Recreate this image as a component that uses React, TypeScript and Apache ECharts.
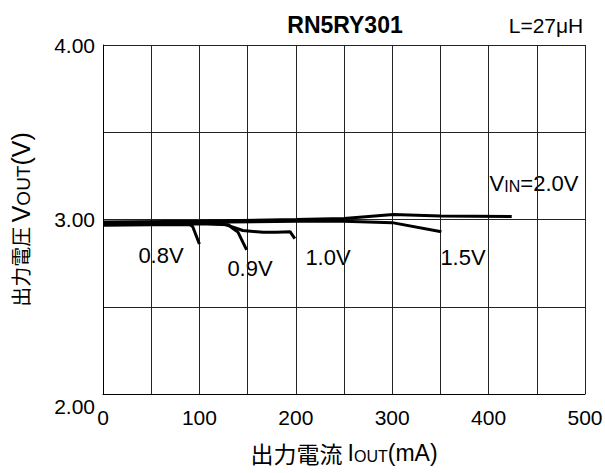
import React, { useEffect, useRef } from 'react';
import * as echarts from 'echarts';

// Output current (mA) vs output voltage (V) for each input voltage
const vin08: number[][] = [[0, 2.967], [50, 2.97], [90, 2.97], [93, 2.96], [100, 2.86]];
const vin09: number[][] = [[0, 2.972], [100, 2.975], [130, 2.97], [133, 2.956], [140, 2.928], [149, 2.826]];
const vin10: number[][] = [[0, 2.976], [100, 2.979], [124, 2.975], [135, 2.956], [145, 2.937], [166, 2.927], [180, 2.927], [194, 2.93], [199, 2.89]];
const vin15: number[][] = [[0, 2.98], [100, 2.984], [200, 2.99], [250, 2.99], [300, 2.982], [351, 2.93]];
const vin20: number[][] = [[0, 2.986], [100, 2.99], [200, 3.0], [250, 3.006], [301, 3.029], [350, 3.02], [424, 3.017]];

const xMin = 0, xMax = 500, xStep = 50, xLabelStep = 100;
const yMin = 2, yMax = 4, yStep = 0.5;
const yLabels = [2, 3, 4];

const title = 'RN5RY301';
const subTitle = 'L=27\u03bcH';
const curveLabels = ['0.8V', '0.9V', '1.0V', '1.5V'];

const FONT = '"Liberation Sans", Arial, sans-serif';
const CJK = '"Noto Sans CJK JP", "Liberation Sans", sans-serif';

export default function App() {
  const ref = useRef<HTMLDivElement>(null);
  useEffect(() => {
    if (!ref.current) return;
    const chart = echarts.init(ref.current, undefined, { renderer: 'svg' });
    const lineSeries = (name: string, data: number[][]) => ({
      type: 'line',
      name,
      data,
      symbol: 'none',
      smooth: false,
      lineStyle: { color: '#000', width: 3 },
      z: 3,
    });
    const lbl = (text: string, x: number, y: number) => ({
      type: 'text',
      x,
      y,
      style: { text, fill: '#000', font: `22px ${FONT}`, align: 'center', verticalAlign: 'middle' },
    });
    chart.setOption({
      animation: false,
      backgroundColor: '#fff',
      grid: { left: 103, right: 20, top: 45, bottom: 79, outerBoundsMode: 'none', containLabel: false },
      xAxis: {
        type: 'value',
        min: xMin,
        max: xMax,
        interval: xStep,
        name: '{c|出力電流 }{n|I}{s|OUT}{n|(mA)}',
        nameLocation: 'middle',
        nameGap: 47,
        nameTextStyle: {
          rich: {
            c: { fontSize: 23, fontFamily: CJK, color: '#000' },
            n: { fontSize: 23, fontFamily: FONT, color: '#000' },
            s: { fontSize: 16, fontFamily: FONT, color: '#000', padding: [7, 0, 0, 0] },
          },
        },
        axisLine: { show: true, lineStyle: { color: '#000', width: 1 } },
        axisTick: { show: false },
        axisLabel: {
          color: '#000',
          fontSize: 21,
          fontFamily: FONT,
          margin: 13,
          showMinLabel: true,
          showMaxLabel: true,
          formatter: (v: number) => (v % xLabelStep === 0 ? String(v) : ''),
        },
        splitLine: { show: true, showMinLine: true, showMaxLine: true, lineStyle: { color: '#222', width: 1 } },
      },
      yAxis: {
        type: 'value',
        min: yMin,
        max: yMax,
        interval: yStep,
        name: '{c|出力電圧 }{n|V}{s|OUT}{n|(V)}',
        nameLocation: 'middle',
        nameGap: 70,
        nameRotate: 90,
        nameTextStyle: {
          rich: {
            c: { fontSize: 20, fontFamily: CJK, color: '#000' },
            n: { fontSize: 25, fontFamily: FONT, color: '#000' },
            s: { fontSize: 19, fontFamily: FONT, color: '#000', padding: [6, 0, 0, 0] },
          },
        },
        axisLine: { show: true, lineStyle: { color: '#000', width: 1 } },
        axisTick: { show: false },
        axisLabel: {
          color: '#000',
          fontSize: 21,
          fontFamily: FONT,
          margin: 8,
          showMinLabel: true,
          showMaxLabel: true,
          formatter: (v: number) => {
            if (!yLabels.includes(v)) return '';
            if (v === yMin) return '{low|' + v.toFixed(2) + '}';
            return v.toFixed(2);
          },
          rich: {
            low: { fontSize: 21, fontFamily: FONT, color: '#000', padding: [24, 0, 0, 0] },
          },
        },
        splitLine: { show: true, showMinLine: true, showMaxLine: true, lineStyle: { color: '#222', width: 1 } },
      },
      series: [
        lineSeries('0.8V', vin08),
        lineSeries('0.9V', vin09),
        lineSeries('1.0V', vin10),
        lineSeries('1.5V', vin15),
        lineSeries('2.0V', vin20),
      ],
      graphic: [
        {
          type: 'text',
          x: 345,
          y: 25,
          style: { text: title, fill: '#000', font: `bold 23px ${FONT}`, align: 'center', verticalAlign: 'middle' },
        },
        {
          type: 'text',
          x: 546,
          y: 25,
          style: { text: subTitle, fill: '#000', font: `21px ${FONT}`, align: 'center', verticalAlign: 'middle' },
        },
        lbl(curveLabels[0], 161, 255),
        lbl(curveLabels[1], 250, 268),
        lbl(curveLabels[2], 328, 257),
        lbl(curveLabels[3], 463, 257),
        {
          type: 'text',
          x: 534,
          y: 183,
          style: {
            text: '{b|V}{s|IN}{b|=2.0V}',
            align: 'center',
            verticalAlign: 'middle',
            rich: {
              b: { fontSize: 22, fontFamily: FONT, fill: '#000', color: '#000' },
              s: { fontSize: 16, fontFamily: FONT, fill: '#000', color: '#000', padding: [7, 0, 0, 0] },
            },
          },
        },
      ],
    });
    return () => chart.dispose();
  }, []);
  return <div ref={ref} style={{ width: 605, height: 473, position: 'absolute', left: 0, top: 0 }} />;
}
